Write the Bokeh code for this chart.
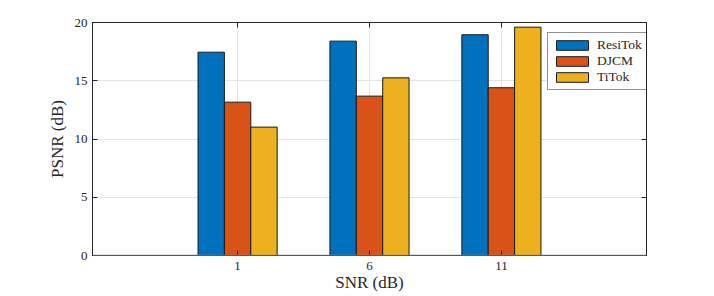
from bokeh.plotting import figure
from bokeh.models import (Range1d, FixedTicker, LinearAxis, Legend, LegendItem,
                          Span, ColumnDataSource)
from bokeh.transform import dodge
from bokeh.embed import file_html
from bokeh.resources import INLINE

# ---- data ----
snr = [1, 6, 11]
series_names = ["ResiTok", "DJCM", "TiTok"]
resitok = [17.45, 18.40, 18.95]
djcm = [13.16, 13.68, 14.40]
titok = [11.02, 15.25, 19.60]
yticks = [0, 5, 10, 15, 20]

colors = ["#0072BD", "#D95319", "#EDB120"]
FONT = "Liberation Serif"
DARK = "#262626"

src = ColumnDataSource(dict(snr=snr, ResiTok=resitok, DJCM=djcm, TiTok=titok))

p = figure(width=714, height=296,
           x_range=Range1d(-4.5, 16.5), y_range=Range1d(0, 20),
           output_backend="svg", toolbar_location=None,
           min_border_left=92, min_border_right=68,
           min_border_top=22, min_border_bottom=41)
p.background_fill_color = "white"
p.border_fill_color = "white"
p.outline_line_color = DARK
p.outline_line_width = 1

# grid
p.xgrid.ticker = FixedTicker(ticks=snr)
p.ygrid.ticker = FixedTicker(ticks=yticks)
for g in (p.xgrid, p.ygrid):
    g.grid_line_color = "#e3e3e3"
    g.grid_line_width = 1

# bars
offsets = [-1.0, 0.0, 1.0]
renderers = []
for name, col, off in zip(series_names, colors, offsets):
    r = p.vbar(x=dodge("snr", off, range=p.x_range), top=name, width=1.0,
               source=src, fill_color=col, line_color="#1a1a1a", line_width=1)
    renderers.append(r)

# baseline
p.add_layout(Span(location=0, dimension="width", line_color="#8a8a8a", line_width=1.5))

# axes
bottom_ax = p.below[0]
left_ax = p.left[0]
bottom_ax.ticker = FixedTicker(ticks=snr)
left_ax.ticker = FixedTicker(ticks=yticks)
top_ax = LinearAxis(ticker=FixedTicker(ticks=snr))
right_ax = LinearAxis(ticker=FixedTicker(ticks=yticks))
p.add_layout(top_ax, "above")
p.add_layout(right_ax, "right")

for ax in (bottom_ax, left_ax, top_ax, right_ax):
    ax.major_tick_in = 5
    ax.major_tick_out = 0
    ax.minor_tick_line_color = None
    ax.axis_line_color = DARK
    ax.major_tick_line_color = DARK
    ax.major_label_text_color = DARK
    ax.major_label_text_font = FONT
    ax.major_label_text_font_size = "13px"
    ax.axis_label_text_font = FONT
    ax.axis_label_text_font_style = "normal"
    ax.axis_label_text_font_size = "17px"
    ax.axis_label_text_color = DARK

for ax in (top_ax, right_ax):
    ax.major_label_text_color = None
    ax.major_label_text_font_size = "1px"
    ax.major_label_standoff = 0

bottom_ax.major_label_standoff = 6
bottom_ax.axis_label = "SNR (dB)"
bottom_ax.axis_label_standoff = 0
left_ax.major_label_standoff = 5
left_ax.axis_label = "PSNR (dB)"
left_ax.axis_label_standoff = 5

legend = Legend(items=[LegendItem(label=n, renderers=[r]) for n, r in zip(series_names, renderers)],
                location=(455, 165))
legend.label_text_font = FONT
legend.label_text_font_size = "13.5px"
legend.label_text_color = DARK
legend.glyph_width = 40
legend.glyph_height = 12
legend.label_standoff = 5
legend.label_height = 15
legend.padding = 4
legend.spacing = -1
legend.margin = 0
legend.border_line_color = DARK
legend.border_line_width = 1
legend.background_fill_color = "white"
legend.background_fill_alpha = 1
p.add_layout(legend)

open("out.html", "w").write(file_html(p, INLINE))
